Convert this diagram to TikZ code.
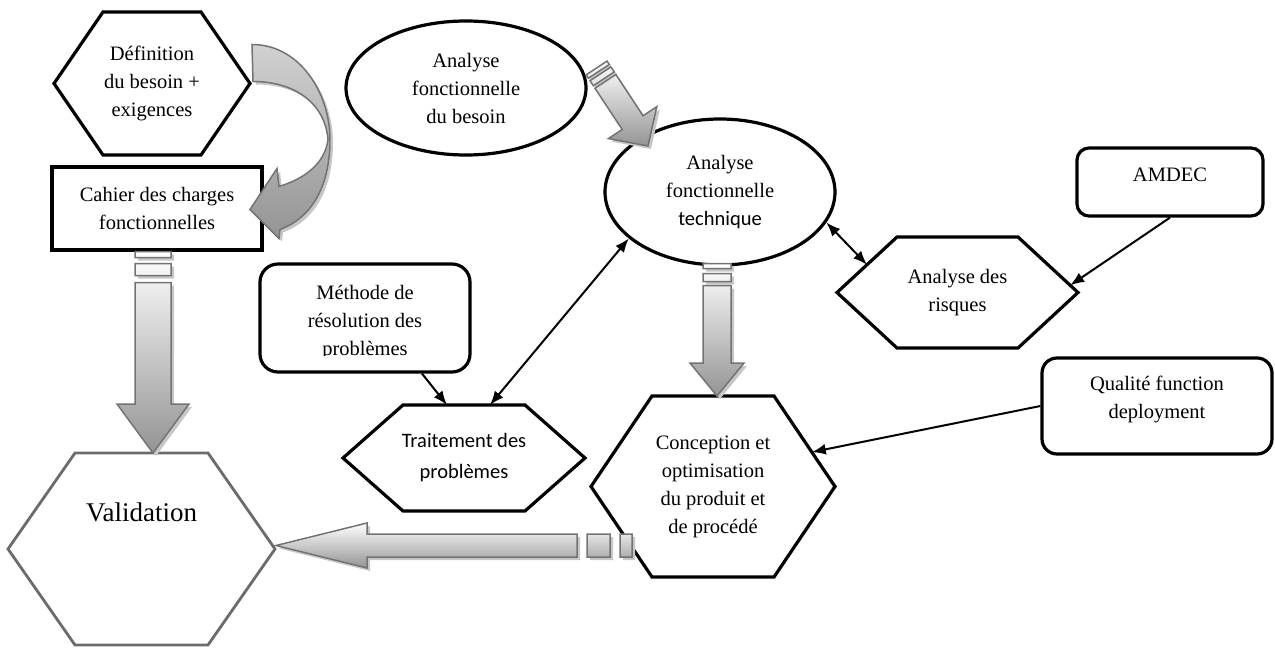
\documentclass[tikz,border=0pt]{standalone}
\usepackage{fontspec}
\setmainfont{Liberation Serif}
\newfontfamily\calibfont{Carlito}
\usetikzlibrary{calc,arrows.meta,shapes.geometric}

\newcommand\mainsize{\fontsize{20.5}{28}\selectfont}

% Hexagon drawn on an invisible rectangular node: #1 style, #2 node, #3 depth of the side points
\newcommand\hexof[3]{%
  \coordinate (#2-nw) at ($(#2.north west)+(#3,0)$);
  \coordinate (#2-ne) at ($(#2.north east)+(-#3,0)$);
  \coordinate (#2-se) at ($(#2.south east)+(-#3,0)$);
  \coordinate (#2-sw) at ($(#2.south west)+(#3,0)$);
  \draw[#1] (#2.west) -- (#2-nw) -- (#2-ne) -- (#2.east) -- (#2-se) -- (#2-sw) -- cycle;
}

% Block arrow with two tail stripes:
% #1 tail, #2 tip, #3 half shaft, #4 half head, #5 head length,
% #6 end of stripe 1, #7/#8 stripe 2, #9 start of shaft
\newcommand\fatarrow[9]{%
  \def\fapath{%
    ($(#1)!0pt!(#2)!#3pt!90:(#2)$) -- ($(#1)!#6pt!(#2)!#3pt!90:(#2)$) --
    ($(#1)!#6pt!(#2)!#3pt!-90:(#2)$) -- ($(#1)!0pt!(#2)!#3pt!-90:(#2)$) -- cycle
    ($(#1)!#7pt!(#2)!#3pt!90:(#2)$) -- ($(#1)!#8pt!(#2)!#3pt!90:(#2)$) --
    ($(#1)!#8pt!(#2)!#3pt!-90:(#2)$) -- ($(#1)!#7pt!(#2)!#3pt!-90:(#2)$) -- cycle
    ($(#1)!#9pt!(#2)!#3pt!90:(#2)$) -- ($(#2)!#5pt!(#1)!#3pt!-90:(#1)$) --
    ($(#2)!#5pt!(#1)!#4pt!-90:(#1)$) -- (#2) -- ($(#2)!#5pt!(#1)!#4pt!90:(#1)$) --
    ($(#2)!#5pt!(#1)!#3pt!90:(#1)$) -- ($(#1)!#9pt!(#2)!#3pt!-90:(#2)$) -- cycle}%
  \fill[arrowshadow] \fapath;
  \shade[blockarrow] \fapath;
}

\tikzset{
  every node/.style={font=\mainsize, align=center, inner sep=0pt},
  outline/.style={draw=black, line width=3.2pt},
  hexnode/.style={inner sep=0pt, outer sep=0pt},
  hexline/.style={draw=black, line width=3.2pt},
  greyhex/.style={draw=black!58, line width=2.8pt},
  rbox/.style={outline, rounded corners=14pt},
  oval/.style={ellipse, outline},
  link/.style={line width=2pt, -{Latex[length=14pt,width=11pt]}},
  dlink/.style={line width=2pt, {Latex[length=14pt,width=11pt]}-{Latex[length=14pt,width=11pt]}},
  blockarrow/.style={top color=white, bottom color=black!42, draw=black!55, line width=1.5pt},
  curvearrow/.style={top color=black!18, bottom color=black!42, draw=black!55, line width=1.5pt},
  arrowshadow/.style={fill=black!22, transform canvas={shift={(3pt,-3pt)}}},
}

\begin{document}
\begin{tikzpicture}[x=1pt, y=-1pt]
\useasboundingbox (0,0) rectangle (1275,650);

% ---- nodes ----
\node[hexnode, minimum width=196pt, minimum height=143pt] (def) at (152,83.5)
  {Définition\\du besoin +\\exigences};
\hexof{hexline}{def}{49}

\node[outline, minimum width=210pt, minimum height=83pt] (cdc) at (157,208.5)
  {Cahier des charges\\fonctionnelles};

\node[hexnode, minimum width=267pt, minimum height=192pt,
      font=\fontsize{27}{32}\selectfont, text depth=74pt] (val) at (141.5,549) {Validation};
\hexof{greyhex}{val}{67}

\node[oval, minimum width=240pt, minimum height=134pt] (besoin) at (466,88)
  {Analyse\\fonctionnelle\\du besoin};

\node[oval, minimum width=230pt, minimum height=146pt] (tech) at (720,192)
  {Analyse\\fonctionnelle\\{\calibfont technique}};

\node[rbox, rounded corners=12pt, minimum width=186pt, minimum height=68pt, text depth=14pt]
  (amdec) at (1170,182) {AMDEC};

\node[hexnode, minimum width=241pt, minimum height=111pt] (risk) at (957.5,292.5)
  {Analyse des\\risques};
\hexof{hexline}{risk}{60}

\node[rbox, rounded corners=18pt, minimum width=210pt, minimum height=108pt] (meth) at (365,318) {};
\begin{scope}
  \clip ($(meth.north west)$) rectangle ($(meth.south east)+(0,-18)$);
  \node (methtxt) at ($(meth.center)+(0,5)$) {Méthode de\\résolution des\\problèmes};
\end{scope}

\node[hexnode, minimum width=242pt, minimum height=106pt, font={\fontsize{20.5}{31}\selectfont\calibfont}]
  (trait) at (464,458) {Traitement des\\problèmes};
\hexof{hexline}{trait}{60}

\node[hexnode, minimum width=244pt, minimum height=181pt] (conc) at (713,486.5)
  {Conception et\\optimisation\\du produit et\\de procédé};
\hexof{hexline}{conc}{61}

\node[rbox, rounded corners=15pt, minimum width=230pt, minimum height=96pt, text depth=17pt]
  (qfd) at (1157,406) {Qualité function\\deployment};

% ---- curved block arrow from the need definition to the specification ----
\begin{scope}[shift={(def.east)}]
  \def\curvedpath{(2,-39) .. controls (50,-39) and (80,10) .. (80,56)
    .. controls (80,105) and (60,135) .. (30,146) -- (29,155) -- (0,126) -- (27,85) -- (29,103)
    .. controls (55,95) and (75,80) .. (78,56)
    .. controls (75,20) and (45,-2) .. (3,-2) -- cycle}
  \fill[arrowshadow] \curvedpath;
  \shade[curvearrow] \curvedpath;
\end{scope}

% ---- straight block arrows ----
\coordinate (a1s) at ($(cdc.south)+(-4,0)$);
\coordinate (a1e) at (a1s |- val.north);
\fatarrow{a1s}{a1e}{18}{36}{49}{6}{12}{24}{31}

\coordinate (a2s) at ($(tech.south)+(-3,-3)$);
\coordinate (a2e) at (a2s |- conc.north);
\fatarrow{a2s}{a2e}{14}{27}{33}{5}{10}{18}{22}

\coordinate (a3e) at ($(val.east)+(1,-3.5)$);
\coordinate (a3s) at ($(conc.west |- a3e)+(41,0)$);
\fatarrow{a3s}{a3e}{11.5}{22.5}{91}{12}{22}{45}{55}

\coordinate (a4s) at ($(besoin.east)+(9,-20)$);
\coordinate (a4e) at ($(tech.center)+(-72,-46)$);
\fatarrow{a4s}{a4e}{12.5}{29}{28}{4}{7}{13}{16}

% ---- connectors ----
\draw[link] ($(meth.south)+(57,0)$) -- ($(trait.north)+(-17,0)$);
\draw[dlink] ($(trait.north)+(26,0)$) -- (tech.207);
\draw[dlink] (tech.-16) -- ($(risk.west)!0.5!(risk-nw)$);
\draw[link] (amdec.south) -- ($(risk-ne)!0.87!(risk.east)$);
\draw[link] (qfd.west) -- ($(conc-ne)!0.62!(conc.east)$);
\end{tikzpicture}
\end{document}
